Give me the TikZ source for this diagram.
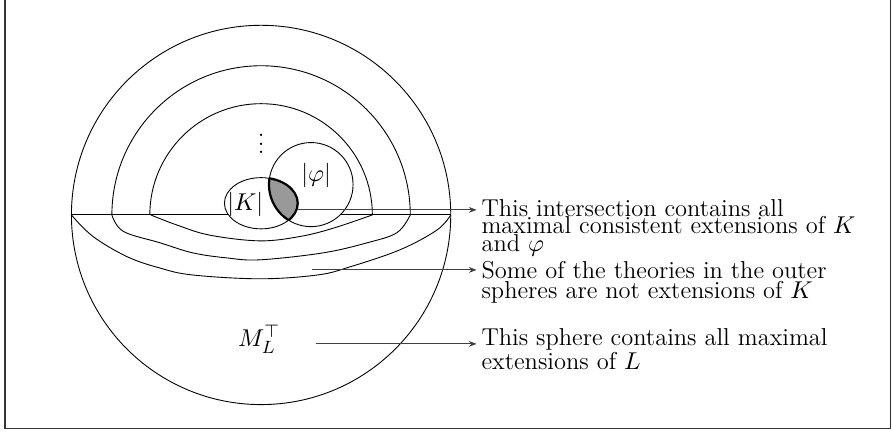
\documentclass[tikz,border=0pt]{standalone}
\usetikzlibrary{arrows.meta}
\begin{document}
\begin{tikzpicture}[
    every node/.style={font=\fontsize{11}{13.6}\selectfont},
    note/.style={anchor=north west, inner sep=0pt, align=left, font=\fontsize{11}{7.9}\selectfont},
    pointer/.style={-{Stealth[length=3.5pt,width=2.6pt]}, black!75, shorten >=2pt},
    border/.style={line width=1.0pt},
    shade/.style={fill=black!40}
  ]
  \useasboundingbox (-4.13,-3.434) rectangle (9.98,3.40);
  % frame, its top edge is cut off
  \draw[black!80, line width=0.7pt] (-4.05,3.40) -- (-4.05,-3.375) -- (9.955,-3.375) -- (9.955,3.40);

  % the spheres
  \draw (0,0) circle (3);
  \draw (-3,0) -- (3,0);
  \draw (2.36,0) arc (0:180:2.36);
  \draw (1.76,0) arc (0:180:1.76);
  \draw plot[smooth, tension=0.6] coordinates {(-1.745,0) (-1.33,-0.16) (-0.81,-0.32) (-0.02,-0.41) (0.62,-0.34) (1.14,-0.21) (1.76,0)};
  \draw plot[smooth, tension=0.6] coordinates {(-2.36,0) (-2.18,-0.26) (-1.60,-0.44) (-1.08,-0.60) (-0.54,-0.68) (-0.02,-0.71) (0.98,-0.60) (1.68,-0.44) (2.15,-0.28) (2.36,0)};
  \draw plot[smooth, tension=0.6] coordinates {(-3,0) (-2.66,-0.34) (-2.12,-0.66) (-1.60,-0.84) (-1.08,-0.95) (-0.02,-1.01) (0.89,-0.95) (1.41,-0.82) (2.20,-0.55) (2.78,-0.24) (3,0)};

  % |K| and |phi|
  \draw[fill=white] (0,0.185) ellipse (0.58 and 0.405);
  \draw[fill=white] (0.79,0.48) circle (0.665);
  \begin{scope}
    \clip (0,0.185) ellipse (0.58 and 0.405);
    \fill[shade] (0.79,0.48) circle (0.665);
    \draw[border] (0.79,0.48) circle (0.665);
  \end{scope}
  \begin{scope}
    \clip (0.79,0.48) circle (0.665);
    \draw[border] (0,0.185) ellipse (0.58 and 0.405);
  \end{scope}

  \node (kset) at (-0.25,0.16) {$|K|$};
  \node (phiset) at (0.87,0.62) {$|\varphi|$};
  \node (dots) at (0,1.23) {$\vdots$};
  \node (maxset) at (-0.03,-1.97) {$M_L^\top$};

  \coordinate (isect) at (0.57,0.08);
  \coordinate (rim) at (0.81,-0.87);
  \coordinate (outer) at (0.87,-2.04);

  % explanations
  \node[note] (txt1) at (3.48,0.258) {This intersection contains all\\ maximal consistent extensions of $K$\\ and $\varphi$};
  \node[note] (txt2) at (3.48,-0.72) {Some of the theories in the outer\\ spheres are not extensions of $K$};
  \node[note] (txt3) at (3.48,-1.79) {This sphere contains all maximal\\ extensions of $L$};

  \draw[pointer] (isect) -- (isect -| txt1.west);
  \draw[pointer] (rim) -- (rim -| txt2.west);
  \draw[pointer] (outer) -- (outer -| txt3.west);
\end{tikzpicture}
\end{document}
